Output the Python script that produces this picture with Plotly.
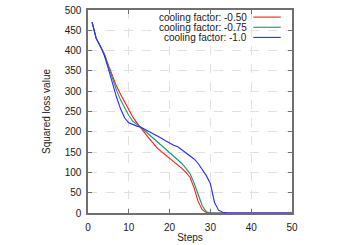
import plotly.graph_objects as go

steps = list(range(1, 51))

labels = ["cooling factor: -0.50", "cooling factor: -0.75", "cooling factor: -1.0"]
colors = ["#ff1a1a", "#149a72", "#2a2aff"]

loss_050 = [470, 430, 412, 392, 364, 338, 312, 292, 272, 254,
            236, 222, 210, 196, 183, 171, 160, 151, 143, 134,
            126, 119, 110, 100, 88, 62, 28, 8, 1, 0,
            0, 0, 0, 0, 0, 0, 0, 0, 0, 0,
            0, 0, 0, 0, 0, 0, 0, 0, 0, 0]
loss_075 = [470, 430, 412, 391, 361, 330, 302, 278, 257, 240,
            226, 219, 211, 202, 193, 184, 176, 168, 159, 150,
            141, 132, 122, 110, 97, 74, 45, 18, 3, 0,
            0, 0, 0, 0, 0, 0, 0, 0, 0, 0,
            0, 0, 0, 0, 0, 0, 0, 0, 0, 0]
loss_100 = [470, 430, 411, 388, 355, 318, 285, 256, 234, 222,
            217, 214, 211, 206, 201, 196, 190, 184, 178, 172,
            167, 163, 156, 148, 140, 133, 122, 108, 92, 72,
            26, 7, 2, 0.5, 0, 0, 0, 0, 0, 0,
            0, 0, 0, 0.8, 0, 0, 0.8, 0, 0, 0]
series = [loss_050, loss_075, loss_100]

x_ticks = [0, 10, 20, 30, 40, 50]
y_ticks = [0, 50, 100, 150, 200, 250, 300, 350, 400, 450, 500]

fig = go.Figure()
for name, vals, col in zip(labels, series, colors):
    fig.add_trace(go.Scatter(x=steps, y=vals, mode="lines", name=name,
                             line=dict(color=col, width=1.1), showlegend=False,
                             hoverinfo="skip"))

# gnuplot-style key: right-aligned text with sample line on the right
for i, (name, col) in enumerate(zip(labels, colors)):
    yp = 0.965 - i * 0.05
    fig.add_annotation(x=0.785, y=yp, xref="paper", yref="paper", text=name,
                       showarrow=False, xanchor="right", yanchor="middle",
                       borderpad=0, font=dict(size=10, color="#202020"))
    fig.add_shape(type="line", xref="paper", yref="paper",
                  x0=0.81, x1=0.945, y0=yp, y1=yp,
                  line=dict(color=col, width=1.1))

axis_common = dict(showline=True, linecolor="#707070", linewidth=1.6, mirror="ticks",
                   ticks="inside", ticklen=4, tickcolor="#707070", tickwidth=1,
                   showgrid=True, gridcolor="#e0e0e0", griddash="dash", gridwidth=1,
                   zeroline=False, automargin=False,
                   tickfont=dict(size=10, color="#202020"))

fig.update_xaxes(range=[0, 50], tickvals=x_ticks, ticklabelstandoff=4,
                 title=dict(text="Steps", font=dict(size=10, color="#202020"), standoff=2),
                 **axis_common)
fig.update_yaxes(range=[0, 500], tickvals=y_ticks, ticklabelstandoff=3,
                 title=dict(text="Squared loss value", font=dict(size=10, color="#202020"), standoff=12),
                 **axis_common)

fig.update_layout(width=350, height=245, autosize=False,
                  margin=dict(l=88, r=58, t=10, b=32, autoexpand=False),
                  plot_bgcolor="white", paper_bgcolor="white",
                  font=dict(family="Liberation Sans, Arial, sans-serif", size=10, color="#202020"))

fig.write_html("out.html", config={"displayModeBar": False, "staticPlot": True},
               post_script="document.body.style.margin='0';document.body.style.overflow='hidden';")
